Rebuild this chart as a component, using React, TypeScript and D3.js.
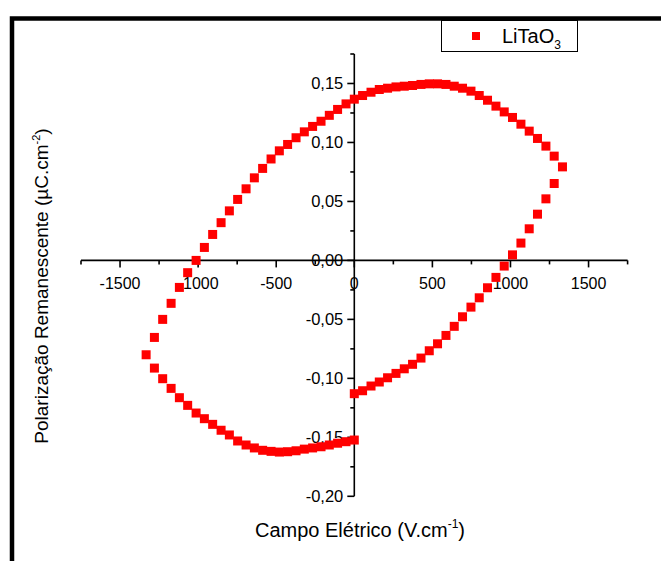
import React from "react";
import * as d3 from "d3";

// Measured hysteresis loop, in acquisition order:
// lower-right branch (0 → +Emax), upper branch (+Emax → -Emax), lower-left branch (-Emax → 0)
const campo = [
  0, 53, 107, 160, 213, 267, 320, 373, 427, 480, 533, 587, 640, 693, 747, 800, 853, 907, 960, 1013,
  1067, 1120, 1173, 1227, 1280, 1333,
  1280, 1227, 1173, 1120, 1067, 1013, 960, 907, 853, 800, 747, 693, 640, 587, 533, 480, 427, 373,
  320, 267, 213, 160, 107, 53, 0, -53, -107, -160, -213, -267, -320, -373, -427, -480, -533, -587,
  -640, -693, -747, -800, -853, -907, -960, -1013, -1067, -1120, -1173, -1227, -1280, -1333,
  -1280, -1227, -1173, -1120, -1067, -1013, -960, -907, -853, -800, -747, -693, -640, -587, -533,
  -480, -427, -373, -320, -267, -213, -160, -107, -53, 0,
];

const polarizacao = [
  -0.113, -0.1105, -0.1065, -0.1031, -0.0995, -0.0958, -0.0919, -0.0881, -0.0828, -0.0766, -0.0707,
  -0.0636, -0.0559, -0.0478, -0.0396, -0.0317, -0.0232, -0.0144, -0.0048, 0.0047, 0.0147, 0.0268,
  0.0392, 0.0522, 0.0652, 0.0793,
  0.0884, 0.0969, 0.1034, 0.1096, 0.1155, 0.1212, 0.1259, 0.1308, 0.1358, 0.1398, 0.1435, 0.146,
  0.1477, 0.1492, 0.1497, 0.1497, 0.1492, 0.1483, 0.1477, 0.1471, 0.146, 0.1449, 0.1426, 0.1398,
  0.1367, 0.1327, 0.128, 0.123, 0.118, 0.1136, 0.109, 0.104, 0.0983, 0.0929, 0.086, 0.078, 0.07,
  0.0607, 0.0517, 0.042, 0.032, 0.022, 0.011, 0.0, -0.0104, -0.0229, -0.0364, -0.05, -0.0653, -0.08,
  -0.0913, -0.1003, -0.1085, -0.1164, -0.1229, -0.1294, -0.1342, -0.139, -0.144, -0.148, -0.1531,
  -0.1565, -0.159, -0.161, -0.1619, -0.1625, -0.1622, -0.1614, -0.16, -0.159, -0.158, -0.1565,
  -0.155, -0.1537, -0.1523,
];

const xMajorTicks = [-1500, -1000, -500, 0, 500, 1000, 1500];
const xMinorTicks = [-1750, -1250, -750, -250, 250, 750, 1250, 1750];
const yMajorTicks = [-0.2, -0.15, -0.1, -0.05, 0, 0.05, 0.1, 0.15];
const yMinorTicks = [-0.175, -0.125, -0.075, -0.025, 0.025, 0.075, 0.125, 0.175];

const seriesName = "LiTaO";
const seriesSub = "3";

const font = "Arial, 'Liberation Sans', Helvetica, sans-serif";

export default function App() {
  const W = 661;
  const H = 561;

  const x = d3.scaleLinear().domain([-1750, 1750]).range([81, 627.6]);
  const y = d3.scaleLinear().domain([-0.2, 0.175]).range([496.3, 54]);

  const x0 = x(0);
  const y0 = y(0);
  const fmtY = (v: number) => d3.format(".2f")(v).replace(".", ",").replace("−", "-");
  const fmtX = (v: number) => d3.format("d")(v).replace("−", "-");

  const marker = 9;
  const majorLen = 7;
  const minorLen = 4;

  return (
    <svg
      width={W}
      height={H}
      viewBox={`0 0 ${W} ${H}`}
      style={{ position: "absolute", left: 0, top: 0, background: "#fff" }}
    >
      <rect x={0} y={0} width={W} height={H} fill="#fff" />
      {/* outer frame */}
      <rect x={12} y={18.5} width={W + 40} height={H + 40} fill="none" stroke="#000" strokeWidth={4.5} />

      {/* x axis */}
      <line x1={x(-1750)} x2={x(1750)} y1={y0} y2={y0} stroke="#000" strokeWidth={1.6} />
      {xMajorTicks.map((t) => (
        <line key={`xM${t}`} x1={x(t)} x2={x(t)} y1={y0} y2={y0 + majorLen} stroke="#000" strokeWidth={1.6} />
      ))}
      {xMinorTicks.map((t) => (
        <line key={`xm${t}`} x1={x(t)} x2={x(t)} y1={y0} y2={y0 + minorLen} stroke="#000" strokeWidth={1.6} />
      ))}
      {xMajorTicks.map((t) => (
        <text
          key={`xl${t}`}
          x={x(t)}
          y={y0 + 28.5}
          textAnchor="middle"
          fontFamily={font}
          fontSize={16}
          fill="#000"
        >
          {fmtX(t)}
        </text>
      ))}

      {/* y axis */}
      <line x1={x0} x2={x0} y1={y(0.175)} y2={y(-0.2)} stroke="#000" strokeWidth={1.6} />
      {yMajorTicks.map((t) => (
        <line key={`yM${t}`} x1={x0 - majorLen} x2={x0} y1={y(t)} y2={y(t)} stroke="#000" strokeWidth={1.6} />
      ))}
      {yMinorTicks.map((t) => (
        <line key={`ym${t}`} x1={x0 - minorLen} x2={x0} y1={y(t)} y2={y(t)} stroke="#000" strokeWidth={1.6} />
      ))}
      {yMajorTicks.map((t) => (
        <text
          key={`yl${t}`}
          x={x0 - 11}
          y={y(t) + 6}
          textAnchor="end"
          fontFamily={font}
          fontSize={16.5}
          fill="#000"
        >
          {fmtY(t)}
        </text>
      ))}

      {/* data points */}
      {campo.map((e, i) => (
        <rect
          key={`p${i}`}
          x={x(e) - marker / 2}
          y={y(polarizacao[i]) - marker / 2}
          width={marker}
          height={marker}
          fill="#ff0000"
        />
      ))}

      {/* axis titles */}
      <text x={360} y={537} textAnchor="middle" fontFamily={font} fontSize={20} fill="#000">
        Campo Elétrico (V.cm
        <tspan dy={-9} fontSize={12}>-1</tspan>
        <tspan dy={9}>)</tspan>
      </text>
      <text
        transform={`translate(48, 286) rotate(-90)`}
        textAnchor="middle"
        fontFamily={font}
        fontSize={19}
        fill="#000"
      >
        Polarização Remanescente (µC.cm
        <tspan dy={-8} fontSize={11}>-2</tspan>
        <tspan dy={8}>)</tspan>
      </text>

      {/* legend */}
      <rect x={441.5} y={20.5} width={136} height={31} fill="#fff" stroke="#000" strokeWidth={1} />
      <rect x={476 - 4} y={36 - 4} width={8} height={8} fill="#ff0000" />
      <text x={502} y={43} fontFamily={font} fontSize={20} fill="#000">
        {seriesName}
        <tspan dy={6} fontSize={12}>{seriesSub}</tspan>
      </text>
    </svg>
  );
}
